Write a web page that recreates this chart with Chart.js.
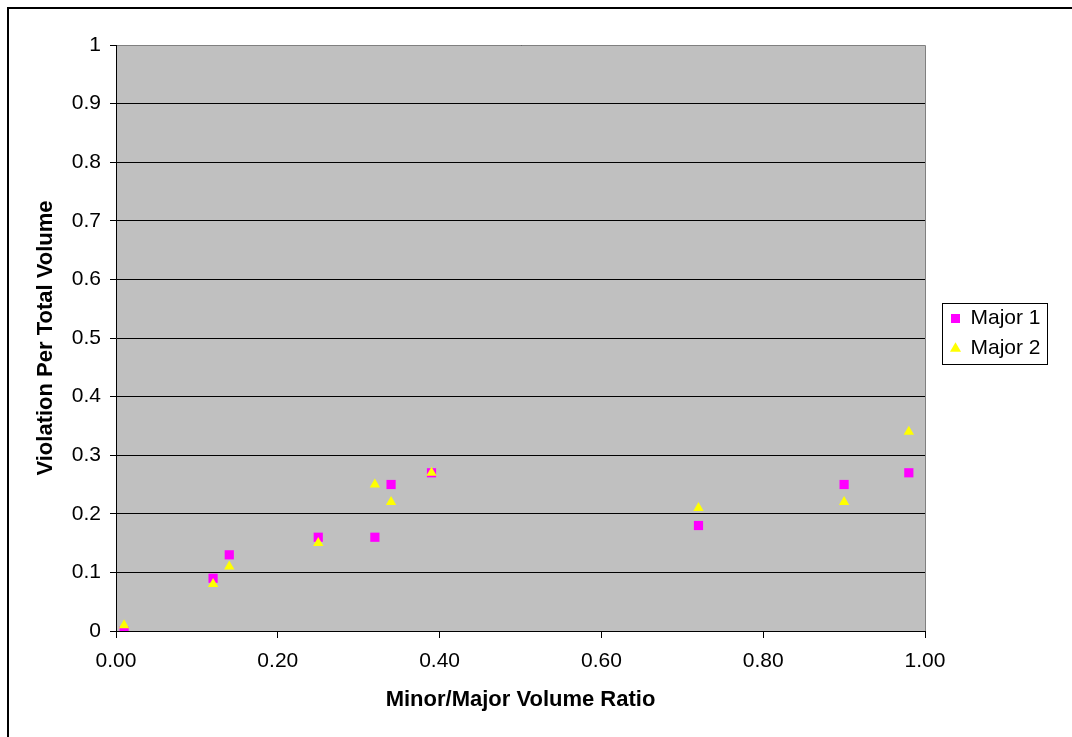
<!DOCTYPE html>
<html>
<head>
<meta charset="utf-8">
<script src="https://cdn.jsdelivr.net/npm/chart.js@4/dist/chart.umd.min.js"></script>
<style>
  html, body { margin: 0; padding: 0; background: #ffffff; }
  #wrap { width: 1072px; height: 737px; }
</style>
</head>
<body>
<div id="wrap"><canvas id="c" width="1072" height="737"></canvas></div>
<script>
// ---- data ----
const seriesNames = ['Major 1', 'Major 2'];
const ratioX = [0.01, 0.12, 0.14, 0.25, 0.32, 0.34, 0.39, 0.72, 0.90, 0.98];
const major1Y = [0.00, 0.09, 0.13, 0.16, 0.16, 0.25, 0.27, 0.18, 0.25, 0.27];
const major2Y = [0.01, 0.08, 0.11, 0.15, 0.25, 0.22, 0.27, 0.21, 0.22, 0.34];
const xTickLabels = ['0.00', '0.20', '0.40', '0.60', '0.80', '1.00'];
const yTickLabels = ['0', '0.1', '0.2', '0.3', '0.4', '0.5', '0.6', '0.7', '0.8', '0.9', '1'];
const xTitle = 'Minor/Major Volume Ratio';
const yTitle = 'Violation Per Total Volume';

const toPoints = (ys) => ratioX.map((x, i) => ({ x: x, y: ys[i] }));

const FONT = 'Liberation Sans, Arial, sans-serif';
const LEGEND_BOX = { left: 942, top: 303, right: 1047, bottom: 364 };

const framePlugin = {
  id: 'frame',
  beforeDraw(chart) {
    const ctx = chart.ctx;
    const a = chart.chartArea;
    ctx.save();
    ctx.fillStyle = '#ffffff';
    ctx.fillRect(0, 0, chart.width, chart.height);
    ctx.strokeStyle = '#000000';
    ctx.lineWidth = 2;
    ctx.strokeRect(8, 8, chart.width + 10, chart.height + 10);
    ctx.fillStyle = '#c0c0c0';
    ctx.fillRect(a.left, a.top, a.right - a.left, a.bottom - a.top);
    ctx.restore();
  },
  beforeDatasetsDraw(chart) {
    const ctx = chart.ctx;
    const a = chart.chartArea;
    ctx.save();
    ctx.strokeStyle = '#808080';
    ctx.lineWidth = 1;
    ctx.beginPath();
    ctx.moveTo(a.left + 1, Math.round(a.top) + 0.5);
    ctx.lineTo(Math.round(a.right) + 0.5, Math.round(a.top) + 0.5);
    ctx.lineTo(Math.round(a.right) + 0.5, a.bottom);
    ctx.stroke();
    ctx.restore();
  },
  afterLayout(chart) {
    const l = chart.legend;
    if (!l) return;
    // place the legend block inside its framed box (centred rows)
    l.left = LEGEND_BOX.left; l.right = LEGEND_BOX.right; l.width = LEGEND_BOX.right - LEGEND_BOX.left;
    l.top = 298; l.bottom = 369; l.height = 71;
  },
  afterDraw(chart) {
    const ctx = chart.ctx;
    ctx.save();
    ctx.strokeStyle = '#000000';
    ctx.lineWidth = 1;
    ctx.strokeRect(LEGEND_BOX.left + 0.5, LEGEND_BOX.top + 0.5,
      LEGEND_BOX.right - LEGEND_BOX.left, LEGEND_BOX.bottom - LEGEND_BOX.top);
    ctx.restore();
  }
};

new Chart(document.getElementById('c'), {
  type: 'scatter',
  data: {
    datasets: [
      {
        label: seriesNames[0],
        data: toPoints(major1Y),
        pointStyle: 'rect',
        pointRadius: 6.5,
        pointHoverRadius: 6.5,
        backgroundColor: '#ff00ff',
        borderColor: '#ff00ff',
        pointBorderWidth: 0,
        order: 1
      },
      {
        label: seriesNames[1],
        data: toPoints(major2Y),
        pointStyle: 'triangle',
        pointRadius: 6,
        pointHoverRadius: 6,
        backgroundColor: '#ffff00',
        borderColor: '#ffff00',
        pointBorderWidth: 0,
        order: 0
      }
    ]
  },
  options: {
    responsive: false,
    animation: false,
    devicePixelRatio: 1,
    layout: { padding: { left: 0, top: 45, right: 42, bottom: 0 } },
    plugins: {
      tooltip: { enabled: false },
      legend: {
        position: 'right',
        fullSize: false,
        maxWidth: 105,
        labels: {
          usePointStyle: true,
          boxWidth: 9,
          boxHeight: 9,
          padding: 9,
          color: '#000000',
          font: { family: FONT, size: 21 },
          sort: (a, b) => a.datasetIndex - b.datasetIndex
        }
      }
    },
    scales: {
      x: {
        type: 'linear',
        min: 0,
        max: 1,
        afterFit(s) { s.height = 106; },
        ticks: {
          stepSize: 0.2,
          padding: 11,
          color: '#000000',
          font: { family: FONT, size: 21 },
          callback: (v, i) => xTickLabels[i]
        },
        grid: { drawOnChartArea: false, drawTicks: true, tickLength: 7, color: '#000000', lineWidth: 1 },
        border: { display: true, color: '#000000', width: 1 },
        title: {
          display: true,
          text: xTitle,
          color: '#000000',
          font: { family: FONT, size: 22, weight: 'bold' },
          padding: { top: 0, bottom: 24 }
        }
      },
      y: {
        type: 'linear',
        min: 0,
        max: 1,
        afterFit(s) { s.width = 116; },
        ticks: {
          stepSize: 0.1,
          padding: 9,
          color: '#000000',
          font: { family: FONT, size: 21 },
          callback: (v, i) => yTickLabels[i]
        },
        grid: { drawOnChartArea: true, drawTicks: true, tickLength: 6, color: '#000000', lineWidth: 1 },
        border: { display: true, color: '#000000', width: 1 },
        title: {
          display: true,
          text: yTitle,
          color: '#000000',
          font: { family: FONT, size: 22, weight: 'bold' },
          padding: { top: 33, bottom: 0 }
        }
      }
    }
  },
  plugins: [framePlugin]
});
</script>
</body>
</html>
